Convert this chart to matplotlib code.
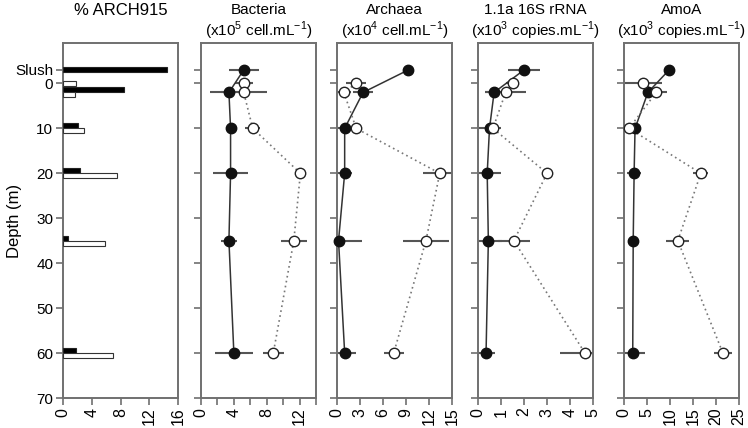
"""
Depth profiles: % ARCH915 bars plus four abundance panels
(Bacteria, Archaea, 1.1a 16S rRNA, AmoA), filled = black series,
open = white series.
"""

import matplotlib
matplotlib.use("Agg")
import matplotlib.pyplot as plt
import numpy as np

plt.rcParams["font.family"] = ["Liberation Sans", "DejaVu Sans"]
plt.rcParams["mathtext.fontset"] = "custom"
plt.rcParams["mathtext.rm"] = "Liberation Sans"

# ── data ──────────────────────────────────────────────────────────────────────
SLUSH = -3
DEPTH_TICKS  = [SLUSH, 0, 10, 20, 30, 40, 50, 60, 70]
DEPTH_LABELS = ["Slush", "0", "10", "20", "30", "40", "50", "60", "70"]

# % ARCH915 bars (None = no bar)
bar_depths = [SLUSH, 0, 2, 10, 20, 35, 60]
arch_black = [14.5, None, 8.5, 2.1, 2.4, 0.7, 1.8]
arch_white = [None, 1.8, 1.7, 2.9, 7.5, 5.9, 6.9]

black_depths = [SLUSH, 2, 10, 20, 35, 60]
white_depths = [0, 2, 10, 20, 35, 60]

bact_black     = [5.2, 3.4, 3.6, 3.6, 3.4, 4.0]
bact_black_err = [1.8, 2.3, 0.4, 2.1, 1.0, 2.3]
bact_white     = [5.2, 5.2, 6.3, 12.1, 11.3, 8.8]
bact_white_err = [1.1, 2.8, 0.9, 0.5, 1.6, 1.3]

arch_b     = [9.3, 3.4, 1.0, 1.0, 0.2, 1.0]
arch_b_err = [0.5, 1.3, 2.0, 1.0, 3.0, 1.5]
arch_w     = [2.5, 0.9, 2.5, 13.4, 11.6, 7.4]
arch_w_err = [1.3, 0.9, 0.5, 2.2, 3.0, 1.3]

rrna_black     = [2.0, 0.7, 0.5, 0.4, 0.45, 0.35]
rrna_black_err = [0.7, 0.4, 0.5, 0.6, 0.6, 0.4]
rrna_white     = [1.5, 1.2, 0.65, 3.0, 1.56, 4.65]
rrna_white_err = [0.3, 0.9, 0.2, 0.15, 0.7, 1.1]

amoa_black     = [9.8, 5.2, 2.4, 2.2, 2.0, 1.9]
amoa_black_err = [1.0, 0.8, 0.8, 1.5, 0.5, 2.7]
amoa_white     = [4.2, 7.0, 1.1, 16.7, 11.7, 21.5]
amoa_white_err = [4.0, 2.3, 0.6, 1.6, 2.5, 2.0]

PANELS = [
    ("Bacteria\n(x10$^5$ cell.mL$^{-1}$)", 14, np.arange(0, 15, 2), [0, 4, 8, 12],
     bact_black, bact_black_err, bact_white, bact_white_err),
    ("Archaea\n(x10$^4$ cell.mL$^{-1}$)", 15, np.arange(0, 16, 3), None,
     arch_b, arch_b_err, arch_w, arch_w_err),
    ("1.1a 16S rRNA\n(x10$^3$ copies.mL$^{-1}$)", 5, np.arange(0, 6, 1), None,
     rrna_black, rrna_black_err, rrna_white, rrna_white_err),
    ("AmoA\n(x10$^3$ copies.mL$^{-1}$)", 25, np.arange(0, 26, 5), None,
     amoa_black, amoa_black_err, amoa_white, amoa_white_err),
]

# ── layout (pixel edges of each panel) ───────────────────────────────────────
W, H = 748, 428
LEFTS  = [63, 201, 337, 478, 624]
WIDTH  = 115
TOP, BOTTOM = 43, 398
SPINE = "#707070"


def style_axis(ax, xmax, xticks, xlabels=None):
    ax.set_ylim(70, -9)
    ax.set_xlim(0, xmax)
    ax.set_yticks(DEPTH_TICKS)
    ax.set_xticks(xticks)
    if xlabels is not None:
        ax.set_xticklabels([str(t) if t in xlabels else "" for t in xticks])
    for sp in ax.spines.values():
        sp.set_color(SPINE)
        sp.set_linewidth(1.4)
    ax.tick_params(axis="both", direction="out", color=SPINE, width=1.2,
                   length=5, labelsize=11.5)
    ax.tick_params(axis="x", labelrotation=90, pad=2)
    ax.tick_params(axis="y", pad=2, labelsize=11)


fig = plt.figure(figsize=(W / 100, H / 100), dpi=100)
axes = [fig.add_axes([l / W, 1 - BOTTOM / H, WIDTH / W, (BOTTOM - TOP) / H])
        for l in LEFTS]

# ── panel 1: % ARCH915 bars ──────────────────────────────────────────────────
ax = axes[0]
bh = 1.1
for d, b, w in zip(bar_depths, arch_black, arch_white):
    if b is not None and w is not None:
        yb, yw = d - bh / 2, d + bh / 2
    else:
        yb = yw = d
    if b is not None:
        ax.barh(yb, b, height=bh, color="black", edgecolor="#222222",
                linewidth=0.8, zorder=3)
    if w is not None:
        ax.barh(yw, w, height=bh, color="white", edgecolor="#333333",
                linewidth=0.8, zorder=3)
style_axis(ax, 16, [0, 4, 8, 12, 16])
ax.set_yticklabels(DEPTH_LABELS)
for lbl in ax.get_yticklabels():
    lbl.set_verticalalignment("center_baseline")
ax.set_ylabel("Depth (m)", fontsize=12)
ax.yaxis.set_label_coords(-0.36, 0.5)
ax.set_title("% ARCH915", fontsize=12, pad=20)

# ── panels 2-5: profiles ─────────────────────────────────────────────────────
for ax, (title, xmax, xticks, xlabels, bv, be, wv, we) in zip(axes[1:], PANELS):
    ax.errorbar(bv, black_depths, xerr=be, fmt="none", ecolor="#555555",
                elinewidth=1.5, capsize=0, zorder=2)
    ax.errorbar(wv, white_depths, xerr=we, fmt="none", ecolor="#555555",
                elinewidth=1.5, capsize=0, zorder=2)
    ax.plot(bv, black_depths, color="#333333", lw=1.1, zorder=3)
    ax.plot(wv, white_depths, color="#777777", lw=1.2, ls=(0, (1, 2)), zorder=3)
    ax.plot(bv, black_depths, "o", ms=7.5, mfc="#111111", mec="#111111",
            mew=1, ls="none", zorder=4, clip_on=False)
    ax.plot(wv, white_depths, "o", ms=7.5, mfc="white", mec="#222222",
            mew=1, ls="none", zorder=5, clip_on=False)
    style_axis(ax, xmax, xticks, xlabels)
    ax.set_yticklabels([])
    ax.set_title(title, fontsize=11, pad=5, linespacing=1.15)

fig.savefig("out.png", dpi=100)
